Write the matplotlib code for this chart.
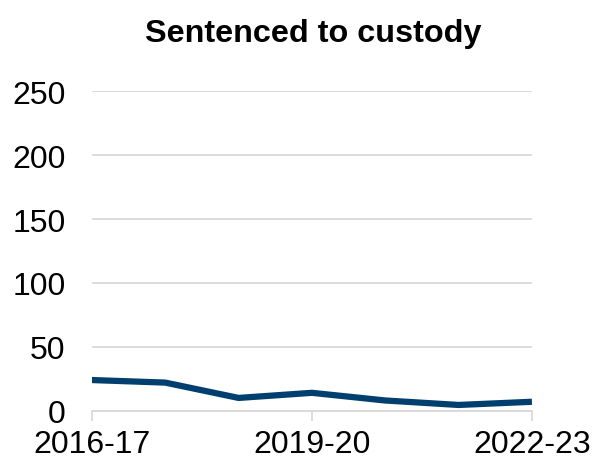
import matplotlib.pyplot as plt

plt.rcParams['font.family'] = ['Liberation Sans', 'DejaVu Sans']

years = ['2016-17', '2017-18', '2018-19', '2019-20', '2020-21', '2021-22', '2022-23']
custody = [24, 22, 10, 14, 8, 4.5, 7]
tick_labels = ['2016-17', '2019-20', '2022-23']

fig = plt.figure(figsize=(5.93, 4.64), dpi=100)
ax = fig.add_axes([0.155, 0.1127, 0.742, 0.6884])

x = list(range(len(years)))
ax.plot(x, custody, color='#003f6e', linewidth=4.5, solid_capstyle='butt', zorder=3)

ax.set_xlim(0, len(years) - 1)
ax.set_ylim(0, 250)
ax.set_yticks(range(0, 251, 50))
ax.set_xticks([0, 3, 6])
ax.set_xticklabels(tick_labels)

ax.grid(axis='y', color='#d9d9d9', linewidth=1.3)
ax.set_axisbelow(True)
for s in ['top', 'right', 'left']:
    ax.spines[s].set_visible(False)
ax.spines['bottom'].set_color('#d9d9d9')
ax.spines['bottom'].set_linewidth(1.3)

ax.tick_params(axis='y', length=0, pad=19, labelsize=23)
ax.tick_params(axis='x', length=7, width=1.3, color='#d9d9d9', pad=6, labelsize=23)

fig.text(313 / 593, 1 - 42 / 464, 'Sentenced to custody', ha='center', va='baseline',
         fontsize=23.3, fontweight='bold')

fig.savefig('out.png', dpi=100)
